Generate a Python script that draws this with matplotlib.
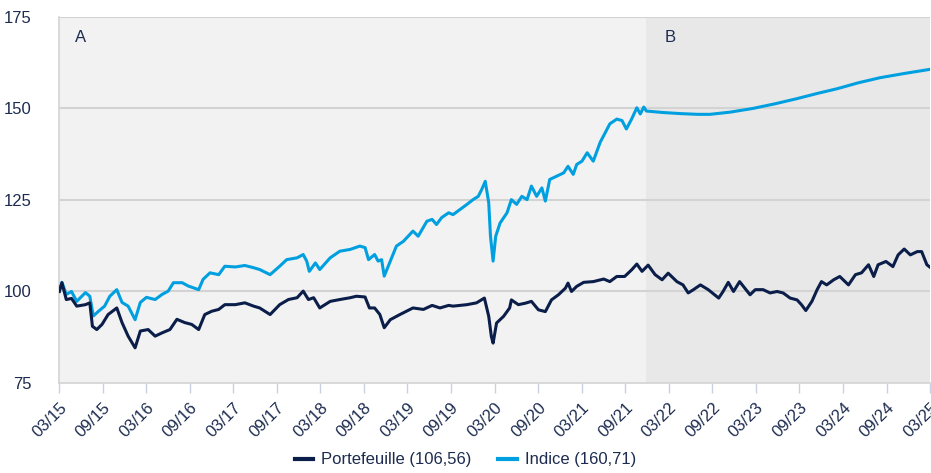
import matplotlib
matplotlib.use("Agg")
import matplotlib.pyplot as plt

plt.rcParams["font.family"] = ["Liberation Sans", "DejaVu Sans"]

NAVY = "#0b1e4a"
BLUE = "#00a0e0"
TEXT = "#1c2b4f"

# time axis in decimal years (03/15 = 2015.167)
port_t = [2015.17, 2015.20, 2015.25, 2015.31, 2015.37, 2015.47, 2015.52, 2015.55, 2015.60, 2015.66,
          2015.73, 2015.83, 2015.89, 2015.96, 2016.04, 2016.10, 2016.19, 2016.27, 2016.35, 2016.44,
          2016.52, 2016.61, 2016.69, 2016.77, 2016.84, 2016.92, 2017.00, 2017.07, 2017.19, 2017.30,
          2017.40, 2017.47, 2017.59, 2017.70, 2017.80, 2017.90, 2017.97, 2018.03, 2018.09, 2018.16,
          2018.28, 2018.39, 2018.51, 2018.58, 2018.68, 2018.73, 2018.79, 2018.85, 2018.90, 2018.97,
          2019.08, 2019.23, 2019.35, 2019.45, 2019.54, 2019.64, 2019.69, 2019.85, 2019.96, 2020.05,
          2020.10, 2020.13, 2020.15, 2020.19, 2020.27, 2020.34, 2020.36, 2020.44, 2020.52, 2020.59,
          2020.67, 2020.75, 2020.82, 2020.90, 2020.98, 2021.01, 2021.05, 2021.11, 2021.19, 2021.30,
          2021.42, 2021.49, 2021.57, 2021.66, 2021.74, 2021.80, 2021.86, 2021.93, 2022.01, 2022.09,
          2022.16, 2022.26, 2022.33, 2022.39, 2022.45, 2022.53, 2022.62, 2022.74, 2022.79, 2022.85,
          2022.91, 2022.98, 2023.04, 2023.10, 2023.16, 2023.25, 2023.33, 2023.41, 2023.48, 2023.56,
          2023.64, 2023.69, 2023.74, 2023.81, 2023.87, 2023.92, 2023.98, 2024.06, 2024.13, 2024.23,
          2024.31, 2024.38, 2024.46, 2024.52, 2024.57, 2024.66, 2024.74, 2024.80, 2024.87, 2024.94,
          2025.02, 2025.07, 2025.13, 2025.17]
port_v = [100.0, 102.4, 97.8, 98.1, 96.0, 96.4, 96.9, 90.5, 89.6, 91.0,
          93.7, 95.5, 91.5, 87.8, 84.6, 89.2, 89.6, 87.8, 88.7, 89.6,
          92.4, 91.5, 91.0, 89.6, 93.7, 94.6, 95.1, 96.4, 96.4, 96.9,
          96.0, 95.5, 93.7, 96.4, 97.8, 98.3, 100.1, 97.8, 98.3, 95.5,
          97.3, 97.8, 98.3, 98.7, 98.5, 95.5, 95.5, 93.7, 90.1, 92.3,
          93.7, 95.5, 95.1, 96.2, 95.5, 96.2, 96.0, 96.4, 96.9, 98.2,
          93.2, 87.7, 85.9, 91.4, 93.2, 95.5, 97.7, 96.4, 96.8, 97.3,
          95.0, 94.5, 97.7, 99.1, 100.9, 102.3, 100.0, 101.4, 102.5, 102.7,
          103.4, 102.7, 104.1, 104.1, 105.9, 107.5, 105.5, 107.2, 104.6, 103.2,
          105.0, 102.7, 101.8, 99.6, 100.5, 101.8, 100.5, 98.2, 100.0, 102.5,
          100.0, 102.7, 100.9, 99.1, 100.5, 100.5, 99.6, 100.0, 99.6, 98.2,
          97.7, 96.4, 94.8, 97.3, 100.5, 102.7, 101.8, 103.2, 104.1, 101.8,
          104.6, 105.1, 107.3, 104.1, 107.3, 108.2, 106.8, 110.0, 111.6, 110.0,
          110.9, 110.9, 107.3, 106.56]

idx_t = [2015.17, 2015.20, 2015.25, 2015.31, 2015.37, 2015.47, 2015.52, 2015.56, 2015.62, 2015.69,
         2015.75, 2015.83, 2015.89, 2015.96, 2016.04, 2016.10, 2016.17, 2016.27, 2016.35, 2016.42,
         2016.48, 2016.58, 2016.65, 2016.77, 2016.82, 2016.90, 2017.00, 2017.07, 2017.19, 2017.30,
         2017.40, 2017.47, 2017.59, 2017.70, 2017.78, 2017.90, 2017.97, 2018.01, 2018.04, 2018.11,
         2018.16, 2018.28, 2018.39, 2018.51, 2018.62, 2018.68, 2018.72, 2018.79, 2018.83, 2018.87,
         2018.90, 2018.97, 2019.04, 2019.12, 2019.23, 2019.29, 2019.39, 2019.45, 2019.50, 2019.56,
         2019.64, 2019.69, 2019.77, 2019.85, 2019.92, 2019.98, 2020.02, 2020.06, 2020.10, 2020.12,
         2020.15, 2020.18, 2020.23, 2020.31, 2020.36, 2020.42, 2020.48, 2020.54, 2020.59, 2020.65,
         2020.71, 2020.75, 2020.80, 2020.88, 2020.96, 2021.01, 2021.07, 2021.11, 2021.17, 2021.23,
         2021.30, 2021.38, 2021.44, 2021.49, 2021.57, 2021.63, 2021.68, 2021.74, 2021.80, 2021.84,
         2021.88, 2021.91, 2022.10, 2022.30, 2022.50, 2022.64, 2022.87, 2023.13, 2023.39, 2023.64,
         2023.87, 2024.10, 2024.34, 2024.59, 2024.88, 2025.17]
idx_v = [100.1, 102.5, 99.2, 100.0, 97.3, 99.7, 98.7, 93.3, 94.6, 96.0,
         98.7, 100.5, 97.0, 96.0, 92.3, 97.0, 98.4, 97.8, 99.2, 100.1,
         102.4, 102.4, 101.5, 100.5, 103.3, 105.1, 104.6, 106.9, 106.7, 107.1,
         106.5, 106.0, 104.6, 106.9, 108.7, 109.2, 110.1, 108.3, 105.5, 107.8,
         106.0, 109.2, 111.0, 111.5, 112.4, 112.0, 108.7, 110.1, 108.3, 108.7,
         104.2, 108.3, 112.4, 113.7, 116.5, 115.1, 119.2, 119.7, 118.3, 120.2,
         121.5, 121.0, 122.4, 123.8, 125.1, 126.0, 127.9, 130.1, 124.2, 115.1,
         108.3, 115.1, 118.7, 121.5, 125.1, 123.8, 126.0, 125.1, 128.8, 126.0,
         128.3, 124.7, 130.6, 131.5, 132.4, 134.2, 132.0, 134.7, 135.6, 137.9,
         135.6, 140.8, 143.5, 145.8, 147.1, 146.7, 144.4, 147.1, 150.2, 148.5,
         150.4, 149.3, 148.9, 148.6, 148.4, 148.4, 149.0, 150.0, 151.3, 152.7,
         154.1, 155.4, 157.0, 158.4, 159.6, 160.71]

tick_labels = ["03/15", "09/15", "03/16", "09/16", "03/17", "09/17", "03/18", "09/18",
               "03/19", "09/19", "03/20", "09/20", "03/21", "09/21", "03/22", "09/22",
               "03/23", "09/23", "03/24", "09/24", "03/25"]
X0, X1 = 2015 + 2 / 12, 2025 + 2 / 12
SPLIT = 2021.91

fig = plt.figure(figsize=(9.31, 4.73), dpi=100)
ax = fig.add_axes([0.0634, 0.1903, 0.9356, 0.7738])

ax.axvspan(X0, SPLIT, color="#f2f2f2", lw=0, zorder=0)
ax.axvspan(SPLIT, X1, color="#e8e8e8", lw=0, zorder=0)
for y in (100, 125, 150, 175):
    ax.axhline(y, color="#d3d3d3", lw=1.5, zorder=1)

ax.plot(idx_t, idx_v, color=BLUE, lw=2.2, zorder=3, label="Indice (160,71)")
ax.plot(port_t, port_v, color=NAVY, lw=2.2, zorder=4, label="Portefeuille (106,56)")

ax.text(2015.35, 169.5, "A", fontsize=12, color=TEXT, va="center")
ax.text(2022.12, 169.5, "B", fontsize=12, color=TEXT, va="center")

ax.set_xlim(X0, X1)
ax.set_ylim(75, 175)
ax.set_yticks([75, 100, 125, 150, 175])
ax.set_xticks([X0 + 0.5 * i for i in range(len(tick_labels))])
ax.set_xticklabels(tick_labels, rotation=45, ha="right", va="top",
                   rotation_mode="anchor")
ax.tick_params(axis="y", length=0, pad=20, labelsize=12, labelcolor=TEXT)
ax.tick_params(axis="x", length=7, width=1, color="#c9d1e3", pad=5,
               labelsize=12, labelcolor=TEXT)
for s in ("top", "right"):
    ax.spines[s].set_visible(False)
for s in ("left", "bottom"):
    ax.spines[s].set_color("#d3d3d3")
    ax.spines[s].set_linewidth(1.2)

h, l = ax.get_legend_handles_labels()
leg = fig.legend(h[::-1], l[::-1], loc="lower center", bbox_to_anchor=(0.5, -0.02),
                 ncol=2, frameon=False, fontsize=12, handlelength=1.1,
                 columnspacing=1.6, handletextpad=0.5)
for line in leg.get_lines():
    line.set_linewidth(3)
for t in leg.get_texts():
    t.set_color(TEXT)

fig.savefig("out.png", dpi=100)
